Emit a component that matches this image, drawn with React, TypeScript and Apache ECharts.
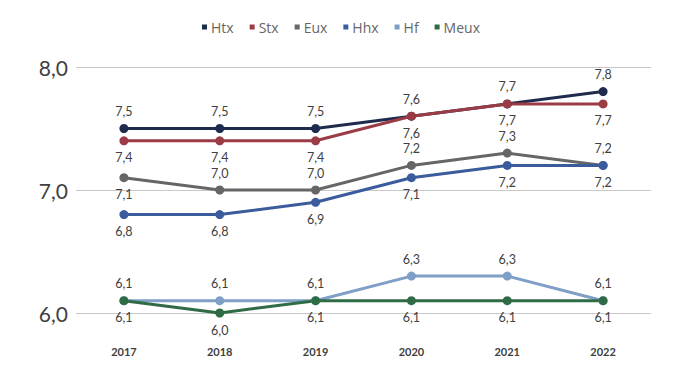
import React, { useEffect, useRef } from "react";
import * as echarts from "echarts";

const years = ["2017", "2018", "2019", "2020", "2021", "2022"];
const htx = [7.5, 7.5, 7.5, 7.6, 7.7, 7.8];
const stx = [7.4, 7.4, 7.4, 7.6, 7.7, 7.7];
const eux = [7.1, 7.0, 7.0, 7.2, 7.3, 7.2];
const hhx = [6.8, 6.8, 6.9, 7.1, 7.2, 7.2];
const hf = [6.1, 6.1, 6.1, 6.3, 6.3, 6.1];
const meux = [6.1, 6.0, 6.1, 6.1, 6.1, 6.1];

const seriesDefs = [
  { name: "Htx", data: htx, color: "#1f2b4d", pos: ["top", "top", "top", "top", "top", "top"] },
  { name: "Stx", data: stx, color: "#9b3b45", pos: ["bottom", "bottom", "bottom", "bottom", "bottom", "bottom"] },
  { name: "Eux", data: eux, color: "#666666", pos: ["bottom", "top", "top", "top", "top", "top"] },
  { name: "Hhx", data: hhx, color: "#3a5c9c", pos: ["bottom", "bottom", "bottom", "bottom", "bottom", "bottom"] },
  { name: "Hf", data: hf, color: "#7f9fc7", pos: ["top", "top", "top", "top", "top", "top"] },
  { name: "Meux", data: meux, color: "#2f6b45", pos: ["bottom", "bottom", "bottom", "bottom", "bottom", "bottom"] },
];

const fmt = (v: number) => v.toFixed(1).replace(".", ",");

export default function App() {
  const ref = useRef<HTMLDivElement>(null);
  useEffect(() => {
    if (!ref.current) return;
    const chart = echarts.init(ref.current, null, { renderer: "svg" });
    chart.setOption({
      animation: false,
      textStyle: { fontFamily: "Lato" },
      legend: {
        top: 15,
        left: "center",
        icon: "rect",
        itemWidth: 5,
        itemHeight: 5,
        itemGap: 16,
        textStyle: { fontSize: 14, color: "#666666", fontFamily: "Open Sans", padding: [0, 0, 0, -1] },
        data: seriesDefs.map((s) => s.name),
      },
      grid: { left: 76, right: 31, top: 67, bottom: 71 },
      xAxis: {
        type: "category",
        data: years,
        boundaryGap: true,
        axisLine: { show: false },
        axisTick: { show: false },
        axisLabel: { fontSize: 11, fontWeight: "bold", color: "#404040", margin: 33 },
      },
      yAxis: {
        type: "value",
        min: 6,
        max: 8,
        interval: 1,
        axisLine: { show: false },
        axisTick: { show: false },
        splitLine: { lineStyle: { color: "#c8c8c8", width: 1 } },
        axisLabel: { fontSize: 21, color: "#404040", margin: 8, formatter: (v: number) => fmt(v) },
      },
      series: seriesDefs.map((s) => ({
        name: s.name,
        type: "line",
        data: s.data.map((v, i) => ({
          value: v,
          label: { position: s.pos[i] },
        })),
        color: s.color,
        lineStyle: { width: 3, color: s.color },
        itemStyle: { color: s.color },
        symbol: "circle",
        symbolSize: 9,
        label: {
          show: true,
          fontSize: 12.5,
          color: "#404040",
          distance: 6,
          formatter: (p: any) => fmt(p.value),
        },
      })),
    });
    return () => chart.dispose();
  }, []);
  return <div ref={ref} style={{ width: 682, height: 384, position: "absolute", left: 0, top: 0 }} />;
}
